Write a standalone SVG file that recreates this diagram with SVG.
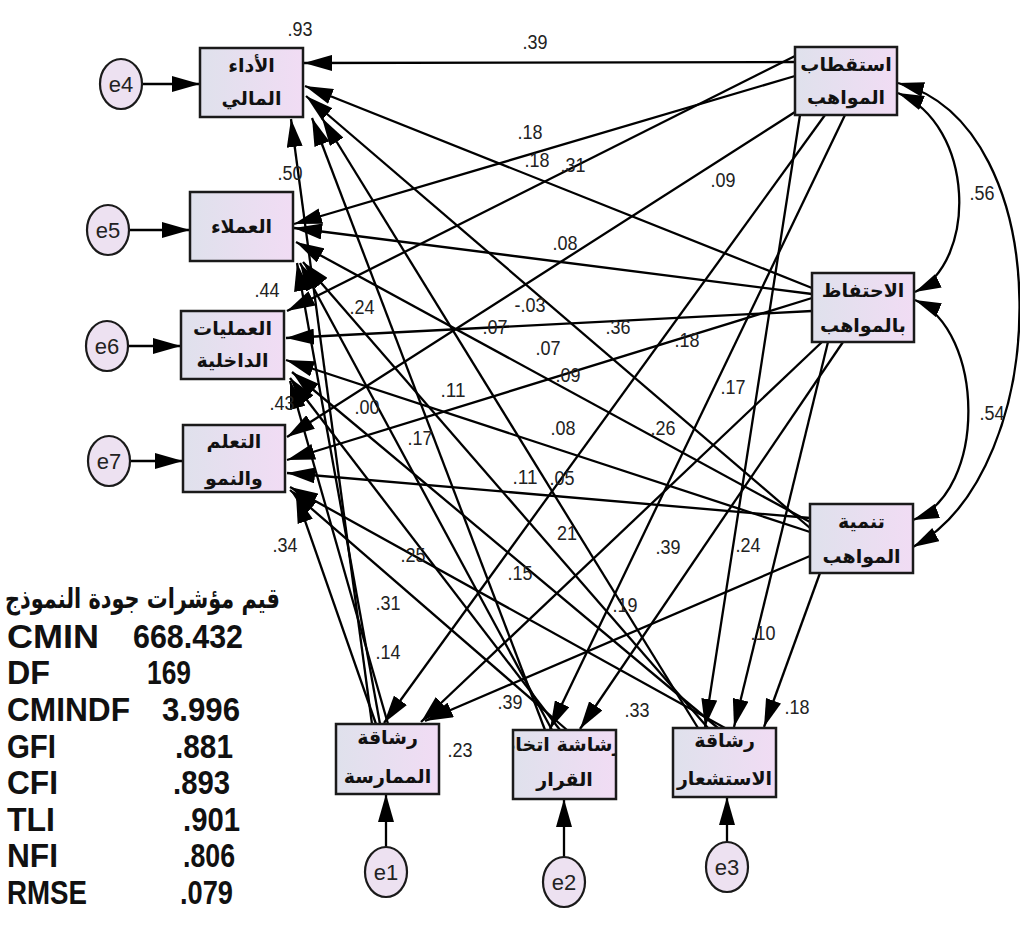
<svg xmlns="http://www.w3.org/2000/svg" width="1020" height="947" viewBox="0 0 1020 947">
<style>
  .box{stroke:#1a1a1a;stroke-width:2.5;fill:url(#boxfill)}
  .err{stroke:#1a1a1a;stroke-width:2.2;fill:#ede1f1}
  .ar{font-family:"DejaVu Sans",sans-serif;font-weight:bold;font-size:19px;fill:#111;text-anchor:middle}
  .et{font-family:"Liberation Sans",Arial,sans-serif;font-size:22px;fill:#222;text-anchor:middle}
  .lb{font-family:"Liberation Sans",Arial,sans-serif;font-size:20px;fill:#222;text-anchor:middle}
  .st{font-family:"Liberation Sans",Arial,sans-serif;font-weight:bold;font-size:34px;fill:#111}
  .p{stroke:#000;stroke-width:2.3;fill:none;marker-end:url(#ah)}
  .c{stroke:#000;stroke-width:2.3;fill:none;marker-end:url(#ah2);marker-start:url(#ah2)}
</style>
<defs>
  <linearGradient id="boxfill" x1="0" y1="0" x2="1" y2="0">
    <stop offset="0" stop-color="#dfe1ec"/>
    <stop offset="1" stop-color="#f1dcf4"/>
  </linearGradient>
  <marker id="ah" viewBox="0 0 28 16" refX="28" refY="8" markerWidth="28" markerHeight="16" markerUnits="userSpaceOnUse" orient="auto">
    <path d="M0,0 L28,8 L0,16 z" fill="#000"/>
  </marker>
  <marker id="ah2" viewBox="0 0 26 15" refX="26" refY="7.5" markerWidth="26" markerHeight="15" markerUnits="userSpaceOnUse" orient="auto-start-reverse">
    <path d="M0,0 L26,7.5 L0,15 z" fill="#000"/>
  </marker>
  <clipPath id="clipB2"><rect x="514" y="731" width="101" height="67"/></clipPath>
  <clipPath id="clipB3"><rect x="674" y="729" width="101" height="67"/></clipPath>
</defs>
<rect width="1020" height="947" fill="#fff"/>

<!-- structural paths -->
<g id="connectors">
  <!-- from talent attraction -->
  <line class="p" x1="795" y1="62" x2="304" y2="63"/>
  <line class="p" x1="795" y1="76" x2="294" y2="224"/>
  <line class="p" x1="795" y1="56" x2="287" y2="311"/>
  <line class="p" x1="795" y1="112" x2="287" y2="437"/>
  <line class="p" x1="825" y1="115" x2="384" y2="723"/>
  <line class="p" x1="845" y1="115" x2="550" y2="729"/>
  <line class="p" x1="800" y1="115" x2="705" y2="727"/>
  <!-- from talent retention -->
  <line class="p" x1="812" y1="288" x2="305" y2="86"/>
  <line class="p" x1="812" y1="294" x2="294" y2="228"/>
  <line class="p" x1="812" y1="311" x2="286" y2="338"/>
  <line class="p" x1="812" y1="298" x2="287" y2="460"/>
  <line class="p" x1="822" y1="342" x2="421" y2="722"/>
  <line class="p" x1="843" y1="342" x2="580" y2="729"/>
  <line class="p" x1="828" y1="342" x2="734" y2="727"/>
  <!-- from talent development -->
  <line class="p" x1="810" y1="528" x2="306" y2="96"/>
  <line class="p" x1="810" y1="522" x2="296" y2="242"/>
  <line class="p" x1="810" y1="532" x2="286" y2="360"/>
  <line class="p" x1="810" y1="518" x2="287" y2="473"/>
  <line class="p" x1="810" y1="556" x2="425" y2="721"/>
  <line class="p" x1="820" y1="573" x2="764" y2="727"/>
  <!-- from practice agility -->
  <line class="p" x1="372" y1="724" x2="291" y2="119"/>
  <line class="p" x1="380" y1="724" x2="297" y2="263"/>
  <line class="p" x1="388" y1="724" x2="290" y2="381"/>
  <line class="p" x1="376" y1="724" x2="296" y2="495"/>
  <!-- from decision agility -->
  <line class="p" x1="545" y1="730" x2="312" y2="118"/>
  <line class="p" x1="552" y1="730" x2="300" y2="263"/>
  <line class="p" x1="560" y1="730" x2="290" y2="378"/>
  <line class="p" x1="567" y1="730" x2="290" y2="490"/>
  <!-- from sensing agility -->
  <line class="p" x1="698" y1="728" x2="322" y2="118"/>
  <line class="p" x1="708" y1="728" x2="303" y2="262"/>
  <line class="p" x1="718" y1="728" x2="292" y2="372"/>
  <line class="p" x1="725" y1="728" x2="290" y2="487"/>
  <!-- covariances -->
  <path class="c" d="M898,93 C975,125 978,262 915,292"/>
  <path class="c" d="M915,300 C985,330 988,492 913,520"/>
  <path class="c" d="M898,83 C1060,125 1055,470 913,547"/>
  <!-- error terms -->
  <line class="p" x1="142" y1="84" x2="200" y2="84"/>
  <line class="p" x1="129" y1="230" x2="190" y2="230"/>
  <line class="p" x1="128" y1="346" x2="181" y2="346"/>
  <line class="p" x1="130" y1="461" x2="183" y2="461"/>
  <line class="p" x1="386" y1="847" x2="386" y2="794"/>
  <line class="p" x1="564" y1="857" x2="564" y2="799"/>
  <line class="p" x1="727" y1="842" x2="727" y2="797"/>
</g>

<!-- outcome variables -->
<g id="financial">
  <rect class="box" x="200" y="48" width="103" height="69"/>
  <text class="ar" x="251.5" y="72">الأداء</text>
  <text class="ar" x="251.5" y="105">المالي</text>
</g>
<g id="customers">
  <rect class="box" x="190" y="192" width="103" height="69"/>
  <text class="ar" x="241.5" y="233">العملاء</text>
</g>
<g id="internal">
  <rect class="box" x="181" y="311" width="103" height="68"/>
  <text class="ar" x="232.5" y="335">العمليات</text>
  <text class="ar" x="232.5" y="367">الداخلية</text>
</g>
<g id="learning">
  <rect class="box" x="183" y="425" width="102" height="67"/>
  <text class="ar" x="234" y="448">التعلم</text>
  <text class="ar" x="234" y="485">والنمو</text>
</g>

<!-- talent management -->
<g id="attraction">
  <rect class="box" x="795" y="47" width="102" height="68"/>
  <text class="ar" x="846" y="71">استقطاب</text>
  <text class="ar" x="846" y="104">المواهب</text>
</g>
<g id="retention">
  <rect class="box" x="812" y="273" width="102" height="69"/>
  <text class="ar" x="863" y="297">الاحتفاظ</text>
  <text class="ar" x="863" y="332">بالمواهب</text>
</g>
<g id="development">
  <rect class="box" x="810" y="504" width="103" height="69"/>
  <text class="ar" x="861.5" y="528">تنمية</text>
  <text class="ar" x="861.5" y="563">المواهب</text>
</g>

<!-- agility -->
<g id="practice">
  <rect class="box" x="336" y="724" width="103" height="70"/>
  <text class="ar" x="387.5" y="744">رشاقة</text>
  <text class="ar" x="387.5" y="783">الممارسة</text>
</g>
<g id="decision">
  <rect class="box" x="513" y="730" width="103" height="69"/>
  <g clip-path="url(#clipB2)">
    <text class="ar" x="564.5" y="751">رشاشة اتخاذ</text>
    <text class="ar" x="564.5" y="786">القرار</text>
  </g>
</g>
<g id="sensing">
  <rect class="box" x="673" y="728" width="103" height="69"/>
  <g clip-path="url(#clipB3)">
    <text class="ar" x="724.5" y="747">رشاقة</text>
    <text class="ar" x="724.5" y="785">الاستشعار</text>
  </g>
</g>

<!-- residuals -->
<g id="e4"><ellipse class="err" cx="121" cy="84" rx="21" ry="25"/><text class="et" x="121" y="92">e4</text></g>
<g id="e5"><ellipse class="err" cx="108" cy="230" rx="21" ry="25"/><text class="et" x="108" y="238">e5</text></g>
<g id="e6"><ellipse class="err" cx="107" cy="346" rx="21" ry="25"/><text class="et" x="107" y="354">e6</text></g>
<g id="e7"><ellipse class="err" cx="109" cy="461" rx="21" ry="25"/><text class="et" x="109" y="469">e7</text></g>
<g id="e1"><ellipse class="err" cx="386" cy="872" rx="21" ry="25"/><text class="et" x="386" y="880">e1</text></g>
<g id="e2"><ellipse class="err" cx="564" cy="882" rx="21" ry="25"/><text class="et" x="564" y="890">e2</text></g>
<g id="e3"><ellipse class="err" cx="727" cy="867" rx="21" ry="25"/><text class="et" x="727" y="875">e3</text></g>

<!-- estimates -->
<g id="estimates">
  <text class="lb" x="300" y="36" textLength="25" lengthAdjust="spacingAndGlyphs">.93</text>
  <text class="lb" x="535" y="49" textLength="25" lengthAdjust="spacingAndGlyphs">.39</text>
  <text class="lb" x="530" y="139" textLength="25" lengthAdjust="spacingAndGlyphs">.18</text>
  <text class="lb" x="537" y="167" textLength="25" lengthAdjust="spacingAndGlyphs">.18</text>
  <text class="lb" x="573" y="172" textLength="25" lengthAdjust="spacingAndGlyphs">.31</text>
  <text class="lb" x="723" y="187" textLength="25" lengthAdjust="spacingAndGlyphs">.09</text>
  <text class="lb" x="982" y="200" textLength="25" lengthAdjust="spacingAndGlyphs">.56</text>
  <text class="lb" x="290" y="180" textLength="25" lengthAdjust="spacingAndGlyphs">.50</text>
  <text class="lb" x="565" y="250" textLength="25" lengthAdjust="spacingAndGlyphs">.08</text>
  <text class="lb" x="267" y="297" textLength="25" lengthAdjust="spacingAndGlyphs">.44</text>
  <text class="lb" x="362" y="314" textLength="25" lengthAdjust="spacingAndGlyphs">.24</text>
  <text class="lb" x="530" y="312" textLength="31" lengthAdjust="spacingAndGlyphs">-.03</text>
  <text class="lb" x="495" y="334" textLength="25" lengthAdjust="spacingAndGlyphs">.07</text>
  <text class="lb" x="618" y="334" textLength="25" lengthAdjust="spacingAndGlyphs">.36</text>
  <text class="lb" x="687" y="347" textLength="25" lengthAdjust="spacingAndGlyphs">.18</text>
  <text class="lb" x="548" y="355" textLength="25" lengthAdjust="spacingAndGlyphs">.07</text>
  <text class="lb" x="568" y="382" textLength="25" lengthAdjust="spacingAndGlyphs">.09</text>
  <text class="lb" x="453" y="397" textLength="25" lengthAdjust="spacingAndGlyphs">.11</text>
  <text class="lb" x="733" y="394" textLength="25" lengthAdjust="spacingAndGlyphs">.17</text>
  <text class="lb" x="367" y="414" textLength="25" lengthAdjust="spacingAndGlyphs">.00</text>
  <text class="lb" x="282" y="410" textLength="25" lengthAdjust="spacingAndGlyphs">.43</text>
  <text class="lb" x="992" y="420" textLength="25" lengthAdjust="spacingAndGlyphs">.54</text>
  <text class="lb" x="420" y="445" textLength="25" lengthAdjust="spacingAndGlyphs">.17</text>
  <text class="lb" x="563" y="435" textLength="25" lengthAdjust="spacingAndGlyphs">.08</text>
  <text class="lb" x="663" y="435" textLength="25" lengthAdjust="spacingAndGlyphs">.26</text>
  <text class="lb" x="525" y="484" textLength="25" lengthAdjust="spacingAndGlyphs">.11</text>
  <text class="lb" x="562" y="485" textLength="25" lengthAdjust="spacingAndGlyphs">.05</text>
  <text class="lb" x="567" y="540" textLength="20" lengthAdjust="spacingAndGlyphs">21</text>
  <text class="lb" x="668" y="554" textLength="25" lengthAdjust="spacingAndGlyphs">.39</text>
  <text class="lb" x="748" y="552" textLength="25" lengthAdjust="spacingAndGlyphs">.24</text>
  <text class="lb" x="285" y="552" textLength="25" lengthAdjust="spacingAndGlyphs">.34</text>
  <text class="lb" x="413" y="562" textLength="25" lengthAdjust="spacingAndGlyphs">.25</text>
  <text class="lb" x="520" y="580" textLength="25" lengthAdjust="spacingAndGlyphs">.15</text>
  <text class="lb" x="388" y="610" textLength="25" lengthAdjust="spacingAndGlyphs">.31</text>
  <text class="lb" x="625" y="612" textLength="25" lengthAdjust="spacingAndGlyphs">.19</text>
  <text class="lb" x="763" y="640" textLength="25" lengthAdjust="spacingAndGlyphs">.10</text>
  <text class="lb" x="388" y="659" textLength="25" lengthAdjust="spacingAndGlyphs">.14</text>
  <text class="lb" x="510" y="709" textLength="25" lengthAdjust="spacingAndGlyphs">.39</text>
  <text class="lb" x="637" y="717" textLength="25" lengthAdjust="spacingAndGlyphs">.33</text>
  <text class="lb" x="797" y="714" textLength="25" lengthAdjust="spacingAndGlyphs">.18</text>
  <text class="lb" x="460" y="757" textLength="25" lengthAdjust="spacingAndGlyphs">.23</text>
</g>

<!-- fit indices -->
<g id="fit">
  <text x="142.5" y="608" font-family="'DejaVu Sans',sans-serif" font-weight="bold" font-size="28" fill="#111" text-anchor="middle" textLength="275" lengthAdjust="spacingAndGlyphs">قيم مؤشرات جودة النموذج</text>
  <text class="st" x="7" y="648" textLength="92" lengthAdjust="spacingAndGlyphs">CMIN</text>
  <text class="st" x="133" y="648" textLength="110" lengthAdjust="spacingAndGlyphs">668.432</text>
  <text class="st" x="7" y="684" textLength="43" lengthAdjust="spacingAndGlyphs">DF</text>
  <text class="st" x="147" y="684" textLength="44" lengthAdjust="spacingAndGlyphs">169</text>
  <text class="st" x="7" y="721" textLength="123" lengthAdjust="spacingAndGlyphs">CMINDF</text>
  <text class="st" x="162" y="721" textLength="78" lengthAdjust="spacingAndGlyphs">3.996</text>
  <text class="st" x="7" y="758" textLength="49" lengthAdjust="spacingAndGlyphs">GFI</text>
  <text class="st" x="175" y="758" textLength="58" lengthAdjust="spacingAndGlyphs">.881</text>
  <text class="st" x="7" y="794" textLength="51" lengthAdjust="spacingAndGlyphs">CFI</text>
  <text class="st" x="173" y="794" textLength="57" lengthAdjust="spacingAndGlyphs">.893</text>
  <text class="st" x="7" y="831" textLength="48" lengthAdjust="spacingAndGlyphs">TLI</text>
  <text class="st" x="183" y="831" textLength="57" lengthAdjust="spacingAndGlyphs">.901</text>
  <text class="st" x="7" y="867" textLength="51" lengthAdjust="spacingAndGlyphs">NFI</text>
  <text class="st" x="183" y="867" textLength="52" lengthAdjust="spacingAndGlyphs">.806</text>
  <text class="st" x="7" y="904" textLength="80" lengthAdjust="spacingAndGlyphs">RMSE</text>
  <text class="st" x="180" y="904" textLength="53" lengthAdjust="spacingAndGlyphs">.079</text>
</g>
</svg>
